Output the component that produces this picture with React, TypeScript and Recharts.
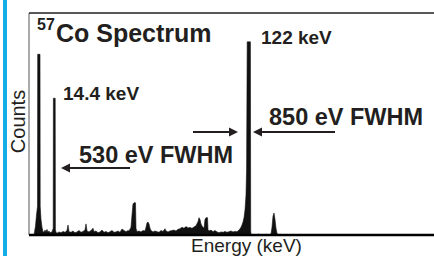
import { Area, AreaChart, ReferenceLine, XAxis, YAxis } from "recharts";

// MCA channels (1 channel per pixel column of the plot) and counts
const channels = [
  0, 5, 6.5, 7.5, 8.5, 8.7, 11, 11.2, 12, 13,
  14, 15, 16, 17, 18, 19, 20, 21, 22, 23,
  24.2, 24.4, 26.2, 26.4, 27, 28, 30, 32, 34, 36,
  38, 39, 40, 42, 44, 46, 48, 50, 52, 54,
  56, 57, 58, 60, 62, 64, 65, 67, 69, 71,
  73, 75, 77, 79, 81, 83, 85, 87, 89, 91,
  93, 95, 97, 99, 100, 102, 103, 104, 105, 106.5,
  107, 108, 110, 112, 114, 116, 117, 118, 119, 120,
  121, 122, 124, 126, 128, 130, 132, 134, 136, 137,
  139, 141, 143, 145, 147, 149, 151, 153, 155, 157,
  159, 161, 163, 165, 167, 169, 170, 171, 172, 173,
  174, 175, 176, 177, 178.5, 179, 180, 182, 184, 186,
  188, 190, 192, 194, 196, 198, 200, 202, 204, 206,
  208, 210, 211, 212, 213, 214, 215, 216, 217, 217.6,
  218.2, 221.4, 221.7, 222, 224, 226, 230, 232, 238, 240,
  242, 243, 244, 245, 246, 247, 248, 249, 405
];

const counts = [
  0, 0, 40, 90, 130, 814, 814, 130, 70, 35,
  15, 12, 22, 15, 25, 12, 18, 10, 12, 14,
  30, 616, 616, 25, 12, 8, 14, 10, 16, 12,
  20, 45, 15, 12, 18, 10, 14, 20, 12, 16,
  22, 50, 18, 14, 20, 30, 15, 18, 10, 14,
  22, 12, 16, 10, 15, 20, 12, 14, 18, 12,
  27, 20, 15, 20, 18, 35, 90, 140, 145, 145,
  30, 15, 18, 14, 20, 18, 35, 55, 58, 50,
  30, 20, 14, 18, 15, 12, 20, 16, 28, 18,
  14, 18, 20, 22, 18, 26, 28, 35, 30, 38,
  32, 34, 30, 36, 42, 60, 78, 70, 50, 40,
  35, 30, 70, 78, 78, 25, 18, 22, 15, 20,
  14, 10, 14, 12, 16, 12, 15, 18, 14, 16,
  15, 22, 28, 35, 45, 58, 78, 113, 180, 300,
  870, 870, 20, 3, 2, 0, 4, 0, 3, 0,
  5, 35, 85, 99, 70, 30, 8, 0, 0
];

// FWHM arrows: [from channel, to channel, level in counts]
const arrow122Left = [164, 209, 464];
const arrow122Right = [306, 224, 464];
const arrow14Left = [101, 32, 302];

const data = channels.map((channel, i) => ({ channel, counts: counts[i] }));

const ink = "#231f20";

function Arrow(props: any) {
  const { x1, y1, x2, y2 } = props;
  const dir = x2 > x1 ? 1 : -1;
  return (
    <g>
      <line x1={x1} y1={y1} x2={x2 - dir * 6} y2={y2} stroke={ink} strokeWidth={2} />
      <polygon
        points={`${x2},${y2} ${x2 - dir * 9},${y2 - 4.5} ${x2 - dir * 9},${y2 + 4.5}`}
        fill={ink}
      />
    </g>
  );
}

function seg(a: number[]) {
  return [
    { x: a[0], y: a[2] },
    { x: a[1], y: a[2] }
  ];
}

export default function App() {
  const font = "'Liberation Sans', Arial, Helvetica, sans-serif";
  return (
    <div
      style={{
        position: "absolute",
        left: 0,
        top: 0,
        width: 434,
        height: 256,
        overflow: "hidden",
        background: "#fff",
        fontFamily: font
      }}
    >
      <AreaChart width={434} height={256} data={data} margin={{ top: 13, right: 0, left: 29, bottom: 21 }}>
        <XAxis dataKey="channel" type="number" domain={[0, 405]} hide />
        <YAxis type="number" domain={[0, 1000]} hide allowDataOverflow />
        <Area
          type="linear"
          dataKey="counts"
          stroke="#111"
          strokeWidth={0.6}
          fill="#111"
          fillOpacity={1}
          dot={false}
          activeDot={false}
          isAnimationActive={false}
        />
        <ReferenceLine x={0} stroke="#555" strokeWidth={1} />
        <ReferenceLine y={1000} stroke={ink} strokeWidth={1.5} />
        <ReferenceLine y={0} stroke="#000" strokeWidth={2.5} />
        <ReferenceLine segment={seg(arrow122Left)} shape={Arrow} />
        <ReferenceLine segment={seg(arrow122Right)} shape={Arrow} />
        <ReferenceLine segment={seg(arrow14Left)} shape={Arrow} />
      </AreaChart>
      <svg
        width={434}
        height={256}
        style={{ position: "absolute", left: 0, top: 0, pointerEvents: "none" }}
        fontFamily={font}
        fill={ink}
      >
        <rect x={3} y={0} width={4} height={256} fill="#14ade6" />
        <text x={37} y={30} fontSize={16} fontWeight="bold">57</text>
        <text x={56} y={42} fontSize={25} fontWeight="bold">Co Spectrum</text>
        <text x={261} y={44} fontSize={19} fontWeight="bold">122 keV</text>
        <text x={63} y={100} fontSize={19} fontWeight="bold">14.4 keV</text>
        <text x={269} y={125} fontSize={23.5} fontWeight="bold">850 eV FWHM</text>
        <text x={79} y={163} fontSize={23.5} fontWeight="bold">530 eV FWHM</text>
        <text x={246.5} y={252} fontSize={19} textAnchor="middle">Energy (keV)</text>
        <text transform="translate(25,121.5) rotate(-90)" fontSize={20} textAnchor="middle">Counts</text>
      </svg>
    </div>
  );
}
